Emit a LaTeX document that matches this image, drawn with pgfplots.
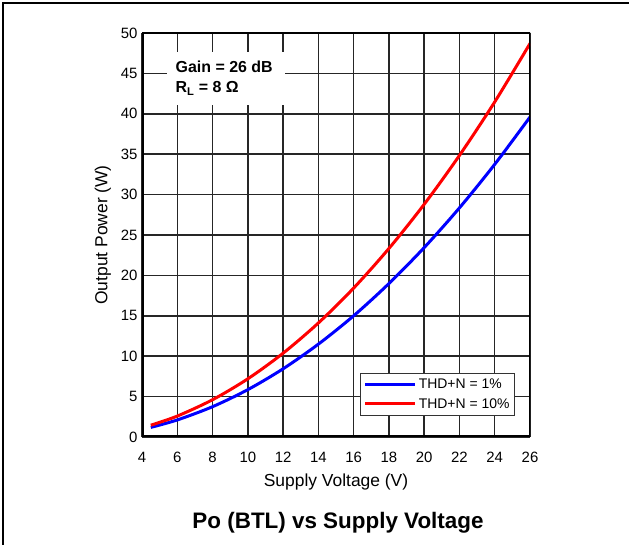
\documentclass[border=0pt]{standalone}
\usepackage{pgfplots}
\pgfplotsset{compat=1.18}
\usepackage{fontspec}
\setmainfont{Liberation Sans}
\begin{document}
\begin{tikzpicture}[x=1bp,y=1bp]
\path[use as bounding box] (0,0) rectangle (629,545);
\draw[line width=1.5bp] (3,0) -- (3,542) -- (629,542);
\begin{axis}[
  at={(142bp,108bp)}, anchor=south west,
  scale only axis, width=388bp, height=404bp,
  xmin=4, xmax=26, ymin=0, ymax=50,
  xtick={4,6,...,26}, ytick={0,5,...,50},
  major tick length=0pt,
  grid=major,
  major grid style={line width=1.5bp, color=black!85},
  axis line style={draw=none},
  tick label style={font=\fontsize{15}{17}\selectfont},
  /pgf/number format/assume math mode=true,
  xticklabel style={yshift=-12bp},
  yticklabel style={xshift=-1bp},
  xlabel={Supply Voltage (V)},
  ylabel={Output Power (W)},
  label style={font=\fontsize{17.5}{20}\selectfont},
  xlabel style={yshift=-4bp},
  ylabel style={yshift=3bp},
  legend style={at={(0.961,0.052)}, anchor=south east, draw=black!80, line width=0.8bp,
     font=\fontsize{14}{17}\selectfont, inner xsep=3bp, inner ysep=4bp, row sep=4bp,
     cells={anchor=west}},
  legend image code/.code={\draw[#1, line width=3bp] (0bp,0bp) -- (50bp,0bp);},
]
\addplot[blue, line width=3bp, smooth] coordinates {
(4.5,1.19) (6,2.11) (8,3.75) (10,5.86) (12,8.44) (14,11.49) (16,15.0) (18,18.99) (20,23.44) (22,28.36) (24,33.75) (26,39.6)};
\addlegendentry{THD+N = 1\%}
\addplot[red, line width=3bp, smooth] coordinates {
(4.5,1.46) (6,2.59) (8,4.61) (10,7.2) (12,10.37) (14,14.11) (16,18.43) (18,23.33) (20,28.8) (22,34.85) (24,41.47) (26,48.7)};
\addlegendentry{THD+N = 10\%}
\fill[white] (axis cs:5.42,41.1) rectangle (axis cs:12.11,47.65);
\node[anchor=west, align=left, inner sep=0pt, font=\fontsize{16}{20}\selectfont\bfseries] at (axis cs:5.9,44.4)
  {Gain = 26 dB\\R\textsubscript{L} = 8 Ω};
\draw[line width=3bp] (rel axis cs:0,0) rectangle (rel axis cs:1,1);
\end{axis}
\node[font=\fontsize{22.5}{26}\selectfont\bfseries] at (338,22) {Po (BTL) vs Supply Voltage};
\end{tikzpicture}
\end{document}
